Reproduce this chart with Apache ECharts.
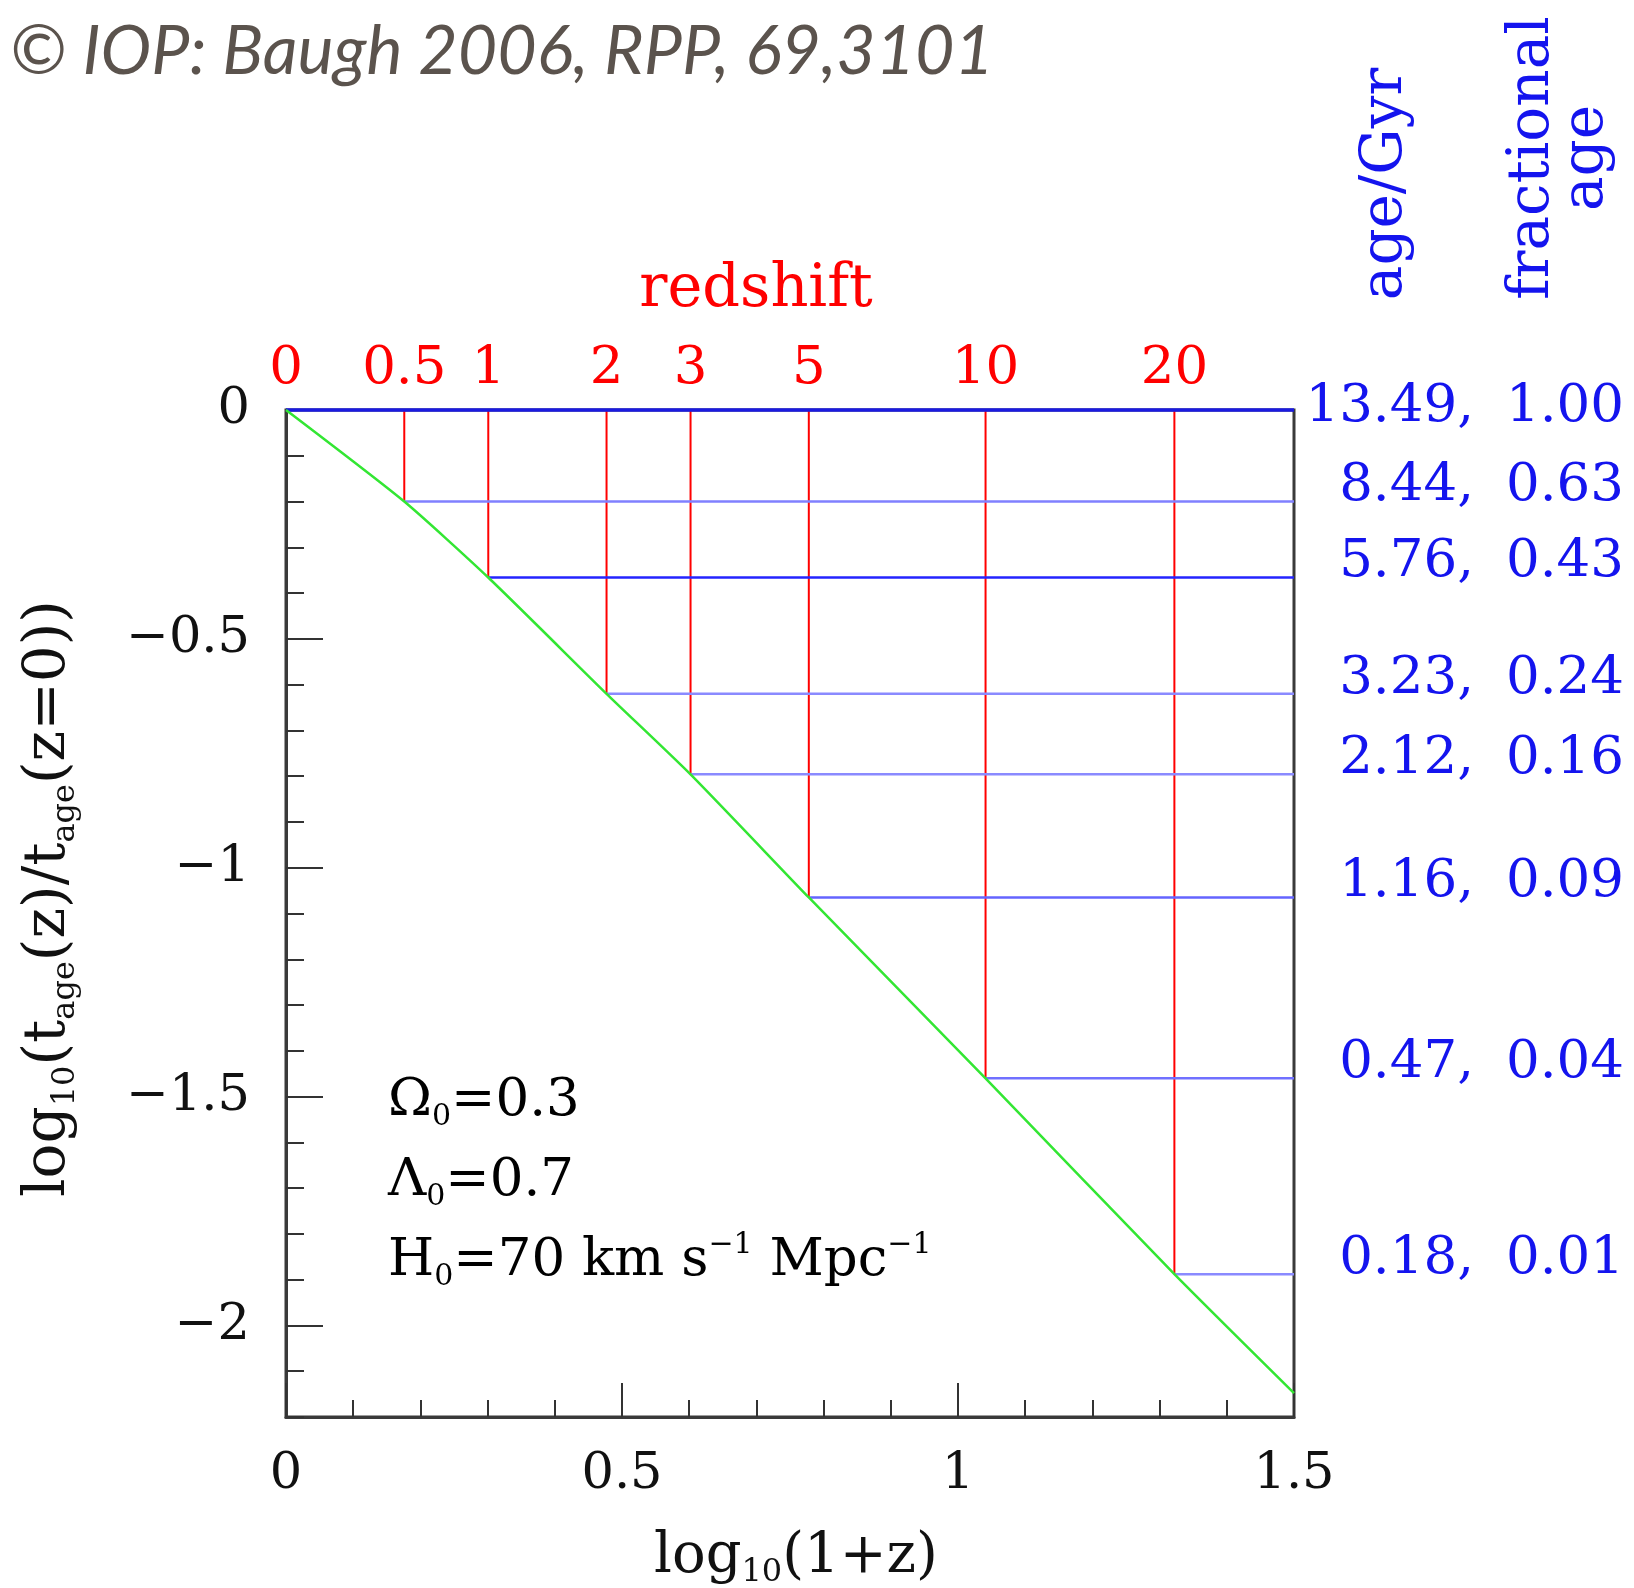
<!DOCTYPE html>
<html>
<head>
<meta charset="utf-8">
<title>Age of the universe vs redshift</title>
<script src="https://cdn.jsdelivr.net/npm/echarts@6/dist/echarts.min.js"></script>
<style>
  html, body { margin: 0; padding: 0; background: #fff; }
  #main { width: 1634px; height: 1588px; }
</style>
</head>
<body>
<div id="main"></div>
<script>
// redshift marks: z, log10(1+z), log10(t_age(z)/t_age(0))
var redshifts = ['0', '0.5', '1', '2', '3', '5', '10', '20'];
var logOnePlusZ = [0, 0.176, 0.301, 0.477, 0.602, 0.778, 1.041, 1.322];
var logAgeRatio = [0, -0.200, -0.366, -0.620, -0.796, -1.065, -1.460, -1.888];

// right hand labels
var agesGyr = ['13.49', '8.44', '5.76', '3.23', '2.12', '1.16', '0.47', '0.18'];
var fracAges = ['1.00', '0.63', '0.43', '0.24', '0.16', '0.09', '0.04', '0.01'];

// green curve
var curveX = [0, 0.176, 0.301, 0.477, 0.602, 0.778, 1.041, 1.322, 1.5];
var curveY = [0, -0.200, -0.366, -0.620, -0.796, -1.065, -1.460, -1.888, -2.148];

var yMajor = [-2, -1.5, -1, -0.5, 0];

var SERIF = 'DejaVu Serif';
var RED = '#ff0000';
var BLUE = '#1414ee';
// the horizontal lines are not all the same shade in the original
var hLineColors = ['#1a1ae0', '#8080ff', '#2424ff', '#8a8aff', '#8a8aff', '#6464ff', '#7070ff', '#8a8aff'];

var chart = echarts.init(document.getElementById('main'));

var sub = { fontFamily: SERIF, fontSize: 32, verticalAlign: 'bottom', lineHeight: 34 };

var option = {
    animation: false,
    backgroundColor: '#ffffff',
    grid: {
        left: 286, right: 340, top: 410, bottom: 171,
        show: true, borderColor: '#3a3a3a', borderWidth: 3,
        containLabel: false, outerBoundsMode: 'none'
    },
    xAxis: [{
        type: 'value', min: 0, max: 1.5, interval: 0.5,
        axisLine: { show: true, onZero: false, lineStyle: { color: '#3a3a3a', width: 3 } },
        axisTick: { show: true, inside: true, length: 34, lineStyle: { color: '#333', width: 2 } },
        minorTick: { show: true, splitNumber: 5, length: 17, lineStyle: { color: '#333', width: 2 } },
        splitLine: { show: false },
        axisLabel: { fontFamily: SERIF, fontSize: 51, color: '#111', margin: 32 },
        name: 'log{s|10}(1+z)', nameLocation: 'middle', nameGap: 108, nameMoveOverlap: false,
        nameTextStyle: { fontFamily: SERIF, fontSize: 56, color: '#111', lineHeight: 64, padding: [0, 0, 0, 12], rich: { s: sub } }
    }, {
        // redshift scale along the top
        type: 'value', position: 'top', min: 0, max: 1.5,
        axisLine: { show: false, onZero: false }, axisTick: { show: false }, splitLine: { show: false },
        axisLabel: {
            customValues: logOnePlusZ,
            fontFamily: SERIF, fontSize: 53, color: RED, margin: 14,
            formatter: function(v) {
                for (var i = 0; i < logOnePlusZ.length; i++) {
                    if (Math.abs(logOnePlusZ[i] - v) < 1e-6) return redshifts[i];
                }
                return '';
            }
        },
        name: 'redshift', nameLocation: 'middle', nameGap: 90, nameMoveOverlap: false,
        nameTextStyle: { fontFamily: SERIF, fontSize: 59, color: RED, padding: [0, 68, 0, 0] }
    }],
    yAxis: [{
        // minor ticks every 0.1
        type: 'value', min: -2.2, max: 0, interval: 0.1,
        axisLine: { show: true, onZero: false, lineStyle: { color: '#3a3a3a', width: 3 } },
        axisTick: { show: true, inside: true, length: 18, lineStyle: { color: '#333', width: 2 } },
        axisLabel: { show: false },
        splitLine: { show: false }
    }, {
        // major ticks + labels
        type: 'value', position: 'left', min: -2.2, max: 0,
        axisLine: { show: false, onZero: false },
        axisTick: { show: true, inside: true, length: 37, customValues: yMajor, lineStyle: { color: '#333', width: 2 } },
        splitLine: { show: false },
        axisLabel: {
            customValues: yMajor, fontFamily: SERIF, fontSize: 51, color: '#111', margin: 36,
            formatter: function(v) { return v < 0 ? '\u2212' + String(-v) : String(v); }
        },
        name: 'log{s|10}(t{s|age}(z)/t{s|age}(z=0))', nameLocation: 'middle', nameRotate: 90,
        nameGap: 204, nameMoveOverlap: false,
        nameTextStyle: { fontFamily: SERIF, fontSize: 58, color: '#111', lineHeight: 66, padding: [0, 0, 0, 30], rich: { s: sub } }
    }],
    series: [{
        // red drops from the top to the curve
        type: 'custom', xAxisIndex: 0, yAxisIndex: 0, z: 3,
        data: logOnePlusZ.map(function(x, i) { return [x, logAgeRatio[i]]; }),
        renderItem: function(params, api) {
            var top = api.coord([api.value(0), 0]);
            var bot = api.coord([api.value(0), api.value(1)]);
            return {
                type: 'line',
                shape: { x1: top[0], y1: top[1], x2: bot[0], y2: bot[1] },
                style: { stroke: RED, lineWidth: 2 }
            };
        }
    }, {
        // blue lines across to the right edge + age labels
        type: 'custom', xAxisIndex: 0, yAxisIndex: 0, z: 4, clip: false,
        data: logOnePlusZ.map(function(x, i) { return [x, logAgeRatio[i]]; }),
        renderItem: function(params, api) {
            var i = params.dataIndex;
            var left = api.coord([api.value(0), api.value(1)]);
            var right = api.coord([1.5, api.value(1)]);
            var ty = right[1] + (i === 0 ? -3 : -15);
            var font = '53px "' + SERIF + '"';
            return {
                type: 'group',
                children: [{
                    type: 'line',
                    shape: { x1: left[0], y1: left[1], x2: right[0], y2: right[1] },
                    style: { stroke: hLineColors[i], lineWidth: i === 0 ? 3.5 : 2.5 }
                }, {
                    type: 'text', x: right[0] + 180, y: ty,
                    style: { text: agesGyr[i] + ',', fill: BLUE, font: font, textAlign: 'right', textVerticalAlign: 'middle' }
                }, {
                    type: 'text', x: right[0] + 212, y: ty,
                    style: { text: fracAges[i], fill: BLUE, font: font, textAlign: 'left', textVerticalAlign: 'middle' }
                }]
            };
        }
    }, {
        type: 'line', xAxisIndex: 0, yAxisIndex: 0, z: 5,
        data: curveX.map(function(x, i) { return [x, curveY[i]]; }),
        symbol: 'none', smooth: 0.2,
        lineStyle: { color: '#33e633', width: 2.5 }
    }],
    graphic: [{
        type: 'text', left: 10, top: 18,
        style: {
            text: '\u00a9 IOP: Baugh 2006, RPP, 69,3101',
            font: 'italic 68px Lato', fill: '#5b534d'
        }
    }, {
        type: 'text', x: 1386, y: 184, rotation: Math.PI / 2,
        style: { text: 'age/Gyr', font: '58px "' + SERIF + '"', fill: BLUE, textAlign: 'center', textVerticalAlign: 'middle' }
    }, {
        type: 'text', x: 1560, y: 158, rotation: Math.PI / 2,
        style: { text: 'fractional\nage', font: '58px "' + SERIF + '"', lineHeight: 54, fill: BLUE, textAlign: 'center', textVerticalAlign: 'middle' }
    }, {
        type: 'text', x: 388, y: 1101,
        style: {
            text: '{a|\u03a9}{s|0}{a|=0.3}', textVerticalAlign: 'middle',
            rich: { a: { fontFamily: SERIF, fontSize: 53, lineHeight: 62, color: '#222' }, s: { fontFamily: SERIF, fontSize: 30, lineHeight: 30, verticalAlign: 'bottom', color: '#222' } }
        }
    }, {
        type: 'text', x: 388, y: 1181,
        style: {
            text: '{a|\u039b}{s|0}{a|=0.7}', textVerticalAlign: 'middle',
            rich: { a: { fontFamily: SERIF, fontSize: 53, lineHeight: 62, color: '#222' }, s: { fontFamily: SERIF, fontSize: 30, lineHeight: 30, verticalAlign: 'bottom', color: '#222' } }
        }
    }, {
        type: 'text', x: 388, y: 1261,
        style: {
            text: '{a|H}{s|0}{a|=70 km s}{p|\u22121}{a| Mpc}{p|\u22121}', textVerticalAlign: 'middle',
            rich: {
                a: { fontFamily: SERIF, fontSize: 53, lineHeight: 62, color: '#222' },
                s: { fontFamily: SERIF, fontSize: 30, lineHeight: 30, verticalAlign: 'bottom', color: '#222' },
                p: { fontFamily: SERIF, fontSize: 30, lineHeight: 32, verticalAlign: 'top', color: '#222' }
            }
        }
    }]
};

chart.setOption(option);
</script>
</body>
</html>
